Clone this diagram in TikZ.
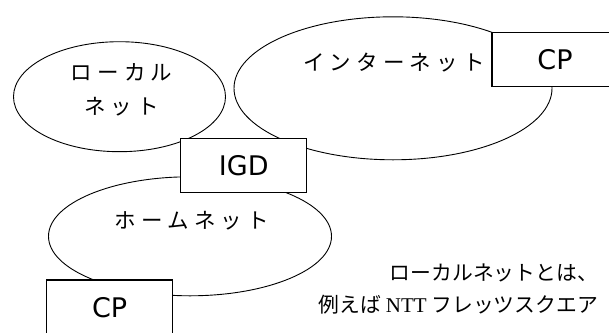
\documentclass[tikz,border=0pt]{standalone}
\usepackage{fontspec}
\usetikzlibrary{shapes.geometric}
\newfontfamily\jp{Noto Sans CJK JP}
\newfontfamily\jpsp[LetterSpace=24]{Noto Sans CJK JP}
\newfontfamily\boxfont{DejaVu Sans}
\newfontfamily\latinserif{Liberation Serif}
\begin{document}
\begin{tikzpicture}[x=1pt,y=-1pt,
  net/.style={draw, ellipse, line width=0.9pt, inner sep=0pt},
  dev/.style={draw, fill=white, line width=1.1pt, inner sep=0pt,
    minimum width=126pt, minimum height=54.4pt,
    font=\boxfont\fontsize{27}{30}\selectfont},
  lbl/.style={font=\jpsp\fontsize{21.5}{34.5}\selectfont, align=center, inner sep=0pt},
  note/.style={font=\jp\fontsize{20.8}{32}\selectfont, align=right, inner sep=0pt}]
\useasboundingbox (0,0) rectangle (609,332);
\clip (0,0) rectangle (609,332);
\node[net, minimum width=212pt, minimum height=110pt] (local) at (119.5,96.7) {};
\node[net, minimum width=318pt, minimum height=143pt] (inet) at (393,88.3) {};
\node[net, minimum width=283pt, minimum height=119pt] (home) at (190,236.3) {};
\node[dev] (igd) at (243.7,165.5) {IGD};
\node[dev] (cpa) at (555,59.5) {CP};
\node[dev] (cpb) at (109.7,307.2) {CP};
\node[lbl] (localtxt) at (121.5,90) {ローカル\\ネット};
\node[lbl] (inettxt) at (394,63) {インターネット};
\node[lbl] (hometxt) at (192,221) {ホームネット};
\node[note, anchor=east] (notetxt) at (598,289) {ローカルネットとは、\\例えば {\latinserif\fontsize{21}{32}\selectfont NTT} フレッツスクエア};
\end{tikzpicture}
\end{document}
